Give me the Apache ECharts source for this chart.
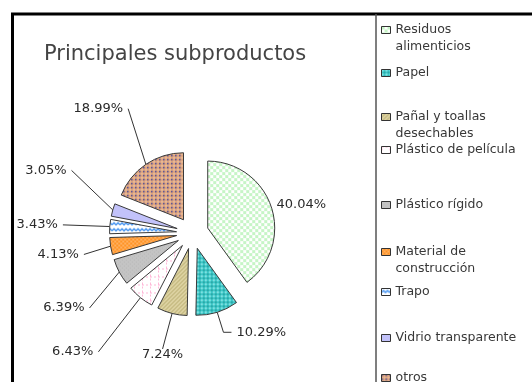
<!DOCTYPE html>
<html>
<head>
<meta charset="utf-8">
<script src="https://cdn.jsdelivr.net/npm/echarts@6/dist/echarts.min.js"></script>
<style>html,body{margin:0;padding:0;background:#fff;}#c{width:532px;height:382px;}</style>
</head>
<body>
<div id="c"></div>
<script>
const titleText = 'Principales subproductos';
const categories = ['Residuos alimenticios', 'Papel', 'Pañal y toallas desechables', 'Plástico de película', 'Plástico rígido', 'Material de construcción', 'Trapo', 'Vidrio transparente', 'otros'];
const legendLabels = ['Residuos\nalimenticios', 'Papel', 'Pañal y toallas\ndesechables', 'Plástico de película', 'Plástico rígido', 'Material de\nconstrucción', 'Trapo', 'Vidrio transparente', 'otros'];
const values = [40.04, 10.29, 7.24, 6.43, 6.39, 4.13, 3.43, 3.05, 18.99];

// label leader-line styling per slice (length, length2), label nudges (dx, dy), and whether the leader meets the label's top
const leaderStyle = [[0, 0], [21, 8], [32, 0], [67, 0], [36, 0], [27, 0], [47, 0], [45, 0], [60, 0]];
const labelNudge = [[0, -3], [0, 0], [24, 10], [0, 2], [2, 19], [0, 4], [0, 2], [2, -27], [16, -6]];
const leaderToTop = [false, false, true, false, false, false, false, false, false];

function pat(w, h, draw) {
  const c = document.createElement('canvas');
  c.width = w; c.height = h;
  const g = c.getContext('2d');
  draw(g, w, h);
  return { image: c, repeat: 'repeat' };
}
const fills = [
  pat(6, 6, (g) => { g.fillStyle = '#ffffff'; g.fillRect(0,0,6,6); g.fillStyle = '#c6f5c6'; g.fillRect(0,0,3,3); g.fillRect(3,3,3,3); }),
  pat(4, 4, (g) => { g.fillStyle = '#3cc8c8'; g.fillRect(0,0,4,4); g.fillStyle = '#7fe0e0'; g.fillRect(0,0,2,2); g.fillStyle = '#2aa8a8'; g.fillRect(2,2,2,2); }),
  pat(4, 4, (g) => { g.fillStyle = '#e6dcae'; g.fillRect(0,0,4,4); g.strokeStyle = '#c0b47a'; g.lineWidth = 1.4; g.beginPath(); g.moveTo(0,4); g.lineTo(4,0); g.moveTo(-1,1); g.lineTo(1,-1); g.moveTo(3,5); g.lineTo(5,3); g.stroke(); }),
  pat(8, 8, (g) => { g.fillStyle = '#ffffff'; g.fillRect(0,0,8,8); g.fillStyle = '#ffb8d8'; g.fillRect(0,0,2,1); g.fillRect(4,0,2,1); g.fillRect(0,2,1,2); g.fillRect(0,6,1,2); }),
  pat(4, 4, (g) => { g.fillStyle = '#c4c4c4'; g.fillRect(0,0,4,4); g.fillStyle = '#b8b8b8'; g.fillRect(0,0,1,1); g.fillRect(2,2,1,1); }),
  pat(4, 4, (g) => { g.fillStyle = '#ff9426'; g.fillRect(0,0,4,4); g.fillStyle = '#ffb060'; g.fillRect(0,0,2,2); g.fillRect(2,2,2,2); }),
  pat(8, 6, (g) => { g.fillStyle = '#ffffff'; g.fillRect(0,0,8,6); g.strokeStyle = '#3d8ff0'; g.lineWidth = 1.3; g.beginPath(); g.moveTo(0,4); g.lineTo(2,2); g.lineTo(4,4); g.lineTo(6,2); g.lineTo(8,4); g.stroke(); }),
  pat(4, 4, (g) => { g.fillStyle = '#c2c2fa'; g.fillRect(0,0,4,4); }),
  pat(4, 4, (g) => { g.fillStyle = '#dda47e'; g.fillRect(0,0,4,4); g.fillStyle = '#4a4a9a'; g.fillRect(0,0,1.5,1.5); g.fillStyle = '#e8b896'; g.fillRect(2,2,2,2); })
];

const legendIconCenters = [30, 73, 117, 150, 205, 252, 292, 338, 378];
const lineH = 17;
const legends = categories.map((name, i) => {
  const two = legendLabels[i].indexOf('\n') >= 0;
  return {
    data: [name],
    left: 381,
    top: two ? legendIconCenters[i] - 25.5 : legendIconCenters[i] - 8.5,
    padding: 0,
    itemWidth: 9,
    itemHeight: 7,
    itemGap: 0,
    selectedMode: false,
    icon: 'rect',
    itemStyle: { borderColor: '#333', borderWidth: 1 },
    formatter: () => (two ? '\n' : '') + legendLabels[i],
    textStyle: {
      fontFamily: 'DejaVu Sans', fontSize: 12.5, color: '#383838', lineHeight: lineH
    }
  };
});

const chart = echarts.init(document.getElementById('c'), null, { renderer: 'canvas' });
chart.setOption({
  animation: false,
  backgroundColor: '#ffffff',
  title: {
    text: titleText,
    left: 44, top: 44, padding: 0,
    textStyle: { fontFamily: 'DejaVu Sans', fontSize: 21, fontWeight: 'normal', color: '#444' }
  },
  legend: legends,
  graphic: [
    { type: 'rect', shape: { x: 12.5, y: 14, width: 600, height: 400 }, style: { fill: 'none', stroke: '#000', lineWidth: 3 }, silent: true, z: 100 },
    { type: 'line', shape: { x1: 376, y1: 14, x2: 376, y2: 400 }, style: { stroke: '#555', lineWidth: 1.5 }, silent: true, z: 100 }
  ],
  series: [{
    type: 'pie',
    center: [192.5, 233],
    radius: [0, 67],
    startAngle: 90,
    clockwise: true,
    selectedMode: 'multiple',
    selectedOffset: 16,
    avoidLabelOverlap: false,
    emphasis: { disabled: true },
    data: categories.map((name, i) => ({
      name, value: values[i], selected: true,
      itemStyle: { color: fills[i] },
      labelLine: { show: leaderStyle[i][0] + leaderStyle[i][1] > 0, length: leaderStyle[i][0], length2: leaderStyle[i][1] }
    })),
    itemStyle: { borderColor: '#3a3a3a', borderWidth: 1 },
    label: {
      show: true,
      formatter: (p) => p.value.toFixed(2) + '%',
      fontFamily: 'DejaVu Sans', fontSize: 13, color: '#2a2a2a'
    },
    labelLayout: (p) => {
      const i = p.dataIndex;
      const d = labelNudge[i];
      const out = { dx: d[0], dy: d[1] };
      const pts = p.labelLinePoints;
      if (pts && pts.length === 3) {
        if (leaderToTop[i] && p.labelRect) {
          const r = p.labelRect;
          const end = [r.x + r.width / 2 + d[0], r.y + d[1] + 1];
          out.labelLinePoints = [[pts[0][0], pts[0][1]], end, end];
        } else {
          out.labelLinePoints = [
            [pts[0][0], pts[0][1]],
            [pts[1][0] + d[0], pts[1][1] + d[1]],
            [pts[2][0] + d[0], pts[2][1] + d[1]]
          ];
        }
      }
      return out;
    },
    labelLine: { show: true, smooth: false, minTurnAngle: 0, lineStyle: { color: '#333', width: 1 } }
  }]
});
</script>
</body>
</html>
